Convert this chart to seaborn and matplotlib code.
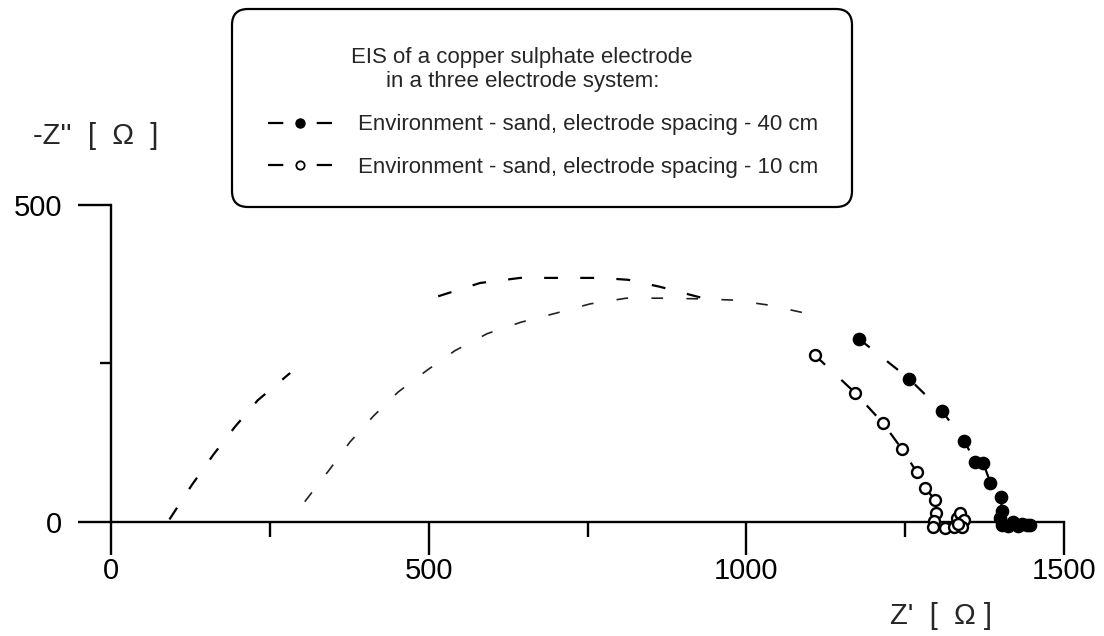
import numpy as np
import pandas as pd
import matplotlib
matplotlib.use("Agg")
import matplotlib.pyplot as plt
import seaborn as sns
from matplotlib.lines import Line2D
from matplotlib.patches import FancyBboxPatch
from matplotlib.transforms import IdentityTransform

# ---------------- data ----------------
# 40 cm spacing: high-frequency arc (no markers), two visible pieces
s40_arc1_x = [92, 127, 161, 195, 231, 282]
s40_arc1_y = [4, 58, 106, 150, 192, 235]
s40_arc2_x = [515, 581, 644, 770, 814, 864, 932]
s40_arc2_y = [356, 377, 385, 385, 382, 371, 353]
# 40 cm spacing: measured points (filled circles)
s40_pts_x = [1177, 1256, 1308, 1343, 1360, 1373, 1384, 1401, 1402, 1400, 1403,
             1412, 1420, 1427, 1434, 1441, 1446]
s40_pts_y = [289, 226, 175, 128, 95, 93, 62, 40, 18, 6, -4,
             -6, 0, -6, -3, -5, -4]
# 10 cm spacing: arc (no markers)
s10_arc_x = [305, 345, 376, 413, 452, 497, 541, 592, 645, 699, 754, 811, 866,
             925, 980, 1036, 1090]
s10_arc_y = [32, 84, 126, 167, 205, 239, 270, 297, 315, 329, 344, 353, 353,
             352, 350, 342, 330]
# 10 cm spacing: measured points (open circles)
s10_pts_x = [1108, 1171, 1215, 1245, 1268, 1281, 1297, 1298, 1296, 1294, 1313,
             1327, 1331, 1336, 1342, 1340, 1333]
s10_pts_y = [263, 204, 156, 115, 79, 54, 35, 14, 2, -8, -9,
             -8, 6, 14, 3, -8, -3]

x_major = [0, 500, 1000, 1500]
x_minor = [250, 750, 1250]
y_major = [0, 500]
y_minor = [250]

legend_title = ["EIS of a copper sulphate electrode", "in a three electrode system:"]
labels = ["Environment - sand, electrode spacing - 40 cm",
          "Environment - sand, electrode spacing - 10 cm"]
xlabel = "Z'  [  \u03a9 ]"
ylabel = "-Z''  [  \u03a9  ]"

# ---------------- style ----------------
sns.set_style("ticks")
plt.rcParams["font.family"] = ["Liberation Sans", "DejaVu Sans"]

W, H = 1104, 636
fig = plt.figure(figsize=(W / 100, H / 100), dpi=100)
ax = fig.add_axes([111 / W, 76 / H, 953 / W, 355 / H])
ax.patch.set_visible(False)

blk_dash = (0, (6.25, 10))
lw = 1.6

def seg(x, y):
    return pd.DataFrame({"x": x, "y": y})

sns.lineplot(data=seg(s40_arc1_x, s40_arc1_y), x="x", y="y", sort=False,
             estimator=None, color="black", lw=lw, linestyle=blk_dash, ax=ax)
sns.lineplot(data=seg(s40_arc2_x, s40_arc2_y), x="x", y="y", sort=False,
             estimator=None, color="black", lw=lw, linestyle=blk_dash, ax=ax)
sns.lineplot(data=seg(s40_pts_x, s40_pts_y), x="x", y="y", sort=False,
             estimator=None, color="black", lw=lw, linestyle=blk_dash, ax=ax)
sns.lineplot(data=seg(s10_arc_x, s10_arc_y), x="x", y="y", sort=False,
             estimator=None, color="#222222", lw=1.2, linestyle=(0, (7, 14)), ax=ax)
sns.lineplot(data=seg(s10_pts_x, s10_pts_y), x="x", y="y", sort=False,
             estimator=None, color="black", lw=lw, linestyle=blk_dash, ax=ax)

sns.scatterplot(data=seg(s40_pts_x, s40_pts_y), x="x", y="y", ax=ax, s=78,
                color="black", edgecolor="black", linewidth=1, zorder=5,
                clip_on=False, legend=False)
sns.scatterplot(data=seg(s10_pts_x, s10_pts_y), x="x", y="y", ax=ax, s=62,
                color="white", edgecolor="black", linewidth=1.7, zorder=5,
                clip_on=False, legend=False)

ax.set_xlim(0, 1500)
ax.set_ylim(-60, 500)
ax.set_xlabel("")
ax.set_ylabel("")
for s in ["top", "right"]:
    ax.spines[s].set_visible(False)
ax.spines["left"].set_bounds(0, 500)
ax.spines["bottom"].set_position(("data", 0))
for s in ["left", "bottom"]:
    ax.spines[s].set_linewidth(1.7)
    ax.spines[s].set_color("black")

ax.set_xticks(x_major)
ax.set_xticks(x_minor, minor=True)
ax.set_yticks(y_major)
ax.set_yticks(y_minor, minor=True)
ax.set_xticklabels([str(v) for v in x_major])
ax.set_yticklabels([str(v) for v in y_major])
ax.tick_params(axis="both", which="major", length=24, width=1.7, color="black",
               labelsize=21, labelcolor="black")
ax.tick_params(axis="x", which="major", pad=1)
ax.tick_params(axis="y", which="major", pad=11)
ax.tick_params(axis="x", which="minor", length=11, width=1.7, color="black")
ax.tick_params(axis="y", which="minor", length=8, width=1.7, color="black")

# axis labels
fig.text(96 / W, 1 - 136 / H, ylabel, fontsize=21, ha="center", va="center")
fig.text(941 / W, 1 - 616 / H, xlabel, fontsize=21, ha="center", va="center")

# legend box
box = FancyBboxPatch((232, H - 207), 620, 198,
                     boxstyle="round,pad=0,rounding_size=16",
                     transform=IdentityTransform(), fill=False,
                     lw=1.6, edgecolor="black")
fig.add_artist(box)
fig.text(522 / W, 1 - 58 / H, legend_title[0], fontsize=16, ha="center", va="center")
fig.text(523 / W, 1 - 82 / H, legend_title[1], fontsize=16, ha="center", va="center")

leg_dash = (0, (6.9, 15))
handles = [
    Line2D([0], [0], color="black", lw=lw, linestyle=leg_dash, marker="o",
           markersize=6.5, markerfacecolor="black", markeredgecolor="black"),
    Line2D([0], [0], color="black", lw=lw, linestyle=leg_dash, marker="o",
           markersize=6, markerfacecolor="white", markeredgecolor="black",
           markeredgewidth=1.3),
]
fig.legend(handles, labels, loc="center left",
           bbox_to_anchor=(268 / W, 1 - 146 / H), frameon=False, fontsize=16,
           handlelength=2.9, handletextpad=1.15, labelspacing=0.95,
           borderpad=0, borderaxespad=0, numpoints=1)

fig.savefig("out.png", dpi=100)
